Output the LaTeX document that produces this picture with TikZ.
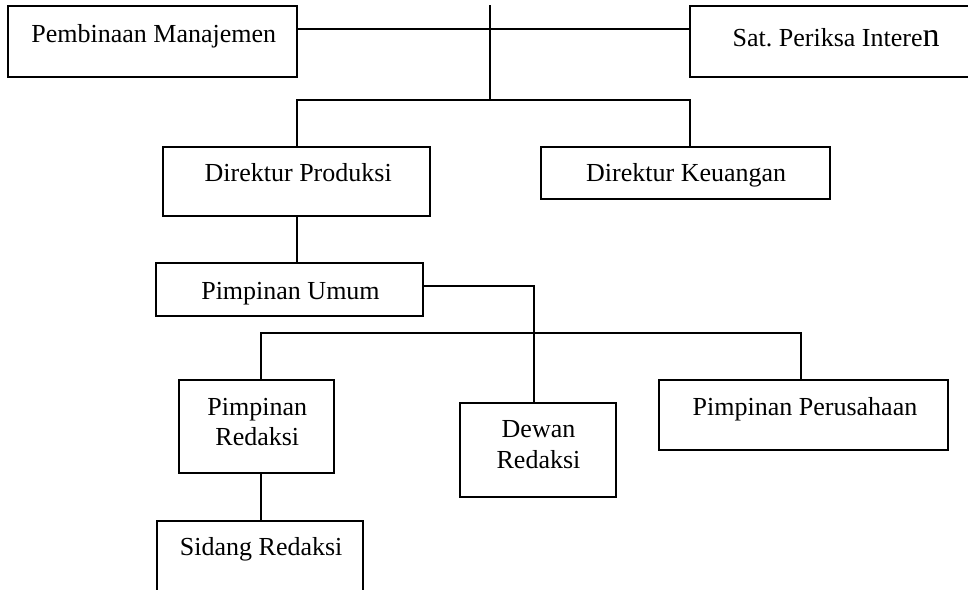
\documentclass[tikz,border=0pt]{standalone}
\usepackage{fontspec}
\setmainfont{Liberation Serif}
\begin{document}
\begin{tikzpicture}[x=1pt,y=-1pt,line width=2pt,
  orgbox/.style={draw,rectangle,inner sep=0pt,line width=2pt},
  lbl/.style={inner sep=0pt,font=\fontsize{26}{30}\selectfont,align=center,anchor=base},
  link/.style={draw,line width=2pt}]
\useasboundingbox (0,0) rectangle (968,589);
\clip (0,0) rectangle (968,589);
% boxes
\node[orgbox,minimum width=288.4pt,minimum height=70.7pt] (pem) at (152.5,41.35) {};
\node[orgbox,minimum width=300pt,minimum height=71pt] (sat) at (840,41.5) {};
\node[orgbox,minimum width=266.7pt,minimum height=69.3pt] (dp) at (296.65,181.35) {};
\node[orgbox,minimum width=289pt,minimum height=52.3pt] (dk) at (685.5,172.85) {};
\node[orgbox,minimum width=267.3pt,minimum height=52.4pt] (pu) at (289.65,289.5) {};
\node[orgbox,minimum width=155.3pt,minimum height=93.3pt] (pr) at (256.65,426.65) {};
\node[orgbox,minimum width=155.7pt,minimum height=94pt] (dew) at (537.85,450.3) {};
\node[orgbox,minimum width=289pt,minimum height=70.3pt] (pp) at (803.8,415.15) {};
\node[orgbox,minimum width=206.6pt,minimum height=120pt] (sr) at (260,580.7) {};
% texts
\node[lbl] (tpem) at (153.8,42.7) {Pembinaan Manajemen};
\node[lbl,anchor=base west] (tsat) at (731.7,46.7) {Sat.\ Periksa Intere{\fontsize{34}{34}\selectfont n}};
\node[lbl] (tdp) at (298.2,181.7) {Direktur Produksi};
\node[lbl] (tdk) at (686.2,181.7) {Direktur Keuangan};
\node[lbl] (tpu) at (290.5,299.3) {Pimpinan Umum};
\node[lbl] (tpr) at (257.3,445.7) {Pimpinan\\Redaksi};
\node[lbl,font=\fontsize{26}{30.6}\selectfont] (tdew) at (538.5,468.3) {Dewan\\Redaksi};
\node[lbl] (tpp) at (805,415.7) {Pimpinan Perusahaan};
\node[lbl] (tsr) at (261.2,555) {Sidang Redaksi};
% junction coordinates
\coordinate (top) at (490,5);
\coordinate (hl) at (490,29.3);
\coordinate (j1) at (490,100);
\coordinate (dkc) at (690,100);
\coordinate (pux) at (534.3,286);
\coordinate (hl2L) at (260.7,333.3);
\coordinate (hl2R) at (801,333.3);
% connectors
\draw[link] (pem.east |- hl) -- (sat.west |- hl);
\draw[link] (top) -- (j1);
\draw[link] (dp.north -| 297.3,0) |- (dkc) -- (dkc |- dk.north);
\draw[link] (dp.south -| 297.3,0) -- (pu.north -| 297.3,0);
\draw[link] (pu.east |- pux) -- (pux) -- (pux |- dew.north);
\draw[link] (hl2L |- pr.north) -- (hl2L) -- (hl2R) -- (hl2R |- pp.north);
\draw[link] (hl2L |- pr.south) -- (hl2L |- sr.north);
\end{tikzpicture}
\end{document}
